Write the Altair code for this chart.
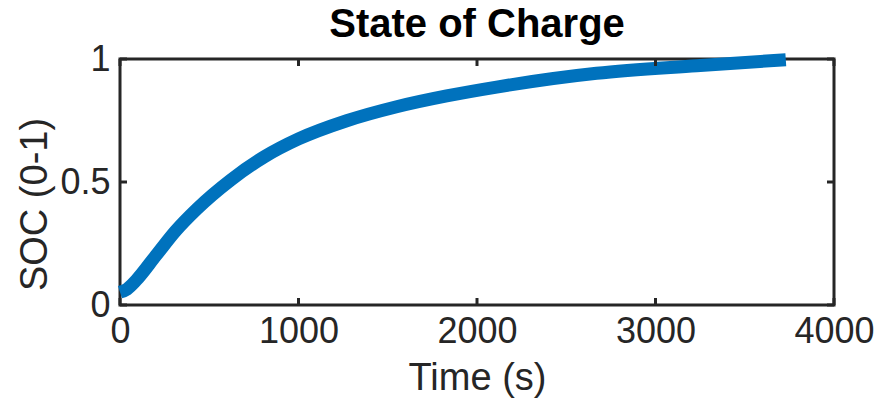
import altair as alt
import pandas as pd

# Data
time_s = [0, 40, 90, 200, 310, 430, 620, 810, 1000, 1270, 1550, 1830, 2110, 2670, 3230, 3730]
soc = [0.052, 0.065, 0.10, 0.20, 0.30, 0.39, 0.508, 0.603, 0.675, 0.749, 0.806, 0.850, 0.886, 0.942, 0.973, 0.997]
x_ticks = [0, 1000, 2000, 3000, 4000]
y_ticks = [0, 0.5, 1]

W, H = 714, 246
AX = "#262626"
FONT = "Liberation Sans"

df = pd.DataFrame({"t": time_s, "soc": soc})
dfx = pd.DataFrame({"t": x_ticks})
dfy = pd.DataFrame({"soc": y_ticks})

xs = alt.Scale(domain=[0, 4000], nice=False, zero=False)
ys = alt.Scale(domain=[0, 1], nice=False, zero=False)

x_axis = alt.Axis(values=x_ticks, title="Time (s)", format="d", labelPadding=9,
                  labelFlush=False, titlePadding=10)
y_axis = alt.Axis(values=y_ticks, title="SOC (0-1)", labelPadding=10, titlePadding=5,
                  titleY=H / 2 + 22,
                  labelExpr="datum.value == 0.5 ? '0.5' : format(datum.value, 'd')")

line = alt.Chart(df).mark_line(
    color="#0072BD", strokeWidth=13, strokeCap="butt", interpolate="monotone", clip=False
).encode(
    x=alt.X("t:Q", scale=xs, axis=x_axis),
    y=alt.Y("soc:Q", scale=ys, axis=y_axis),
)

tl = 7
bottom_ticks = alt.Chart(dfx).mark_rule(color=AX, strokeWidth=3).encode(
    x=alt.X("t:Q", scale=xs, axis=x_axis), y=alt.value(H), y2=alt.value(H - tl))
top_ticks = alt.Chart(dfx).mark_rule(color=AX, strokeWidth=3).encode(
    x=alt.X("t:Q", scale=xs, axis=x_axis), y=alt.value(0), y2=alt.value(tl))
left_ticks = alt.Chart(dfy).mark_rule(color=AX, strokeWidth=3).encode(
    y=alt.Y("soc:Q", scale=ys, axis=y_axis), x=alt.value(0), x2=alt.value(tl))
right_ticks = alt.Chart(dfy).mark_rule(color=AX, strokeWidth=3).encode(
    y=alt.Y("soc:Q", scale=ys, axis=y_axis), x=alt.value(W), x2=alt.value(W - tl))

chart = alt.layer(line, bottom_ticks, top_ticks, left_ticks, right_ticks).properties(
    width=W, height=H,
    title=alt.TitleParams("State of Charge", font=FONT, fontSize=40, fontWeight="bold",
                          color="#000000", offset=-11),
    autosize=alt.AutoSizeParams(type="none"),
    padding={"left": 112, "top": 51, "right": 40, "bottom": 97},
).configure_view(
    stroke=AX, strokeWidth=3
).configure_axis(
    domain=False, ticks=False, grid=False,
    labelFont=FONT, labelFontSize=36, labelColor=AX,
    titleFont=FONT, titleFontSize=38, titleColor=AX, titleFontWeight="normal",
)

chart.save("out.html", embed_options={"renderer": "svg", "actions": False})
